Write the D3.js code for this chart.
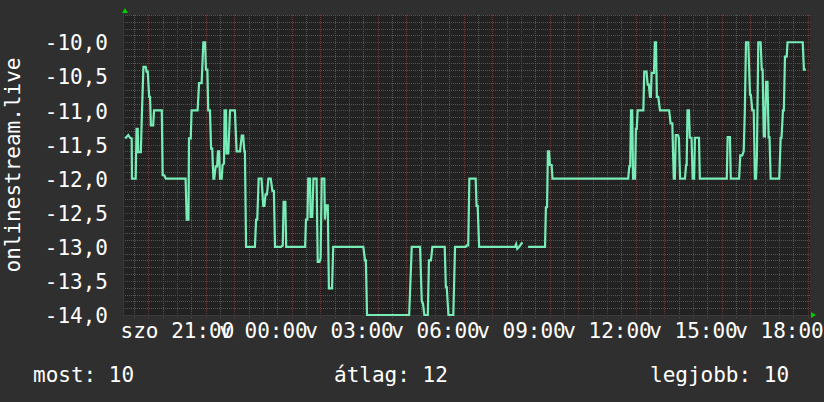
<!DOCTYPE html>
<html>
<head>
<meta charset="utf-8">
<script src="https://cdn.jsdelivr.net/npm/d3@7"></script>
<style>
  html, body { margin: 0; padding: 0; background: #2f2f2f; }
  svg { display: block; font-family: "DejaVu Sans Mono", monospace; }
</style>
</head>
<body>
<svg id="chart" width="824" height="402"></svg>
<script>
'use strict';

// hours counted from saturday 00:00, values of the measured series (null = gap)
var seriesHours = [
  19.19, 19.30, 19.36, 19.42, 19.43, 19.56, 19.59, 19.63, 19.65, 19.74, 19.78, 19.83, 19.91, 19.94, 19.98,
  20.03, 20.06, 20.09, 20.17, 20.20, 20.47, 20.50, 20.56, 20.61, 21.30, 21.34, 21.40, 21.42, 21.48, 21.51,
  21.72, 21.77, 21.86, 21.92, 21.98, 22.01, 22.06, 22.09, 22.15, 22.19, 22.23, 22.27, 22.30, 22.35, 22.40,
  22.43, 22.47, 22.50, 22.56, 22.59, 22.64, 22.66, 22.71, 22.73, 22.79, 22.85, 23.02, 23.08, 23.20, 23.26,
  23.31, 23.35, 23.37, 23.41, 23.72, 23.76, 23.80, 23.85, 23.95, 24.01, 24.05, 24.09, 24.14, 24.19, 24.27,
  24.33, 24.38, 24.42, 24.63, 24.69, 24.72, 24.78, 24.81,
  25.47, 25.50, 25.55, 25.58, 25.64, 25.66, 25.72, 25.76, 25.87, 25.91, 25.97, 26.01, 26.05, 26.14, 26.16,
  26.20, 26.26, 26.30, 26.41, 26.45, 27.50, 27.56, 27.59, 27.63, 29.10, 29.19, 29.48, 29.54, 29.58, 29.63,
  29.75, 29.79, 29.86, 29.91, 30.34, 30.38, 30.41, 30.47, 30.64, 30.70,
  31.07, 31.11, 31.16, 31.20, 31.42, 31.45, 31.49, 31.54, 32.79, 32.83, 32.87, 32.94, 33.02, 33.06, 33.15,
  33.25, 33.84, 33.87, 33.91, 33.94, 33.98, 34.01, 34.07, 34.10, 36.74, 36.78, 36.81, 36.84, 36.88, 36.91,
  36.98, 37.01, 37.04, 37.07, 37.27, 37.30, 37.38, 37.42, 37.46, 37.50, 37.53, 37.56, 37.64, 37.67, 37.71,
  37.74, 37.79, 37.85, 38.17, 38.22, 38.28, 38.33, 38.37, 38.40, 38.47, 38.51, 38.55, 38.72, 38.76, 38.78,
  38.81, 38.86, 38.89, 38.95, 38.99, 39.04, 39.07, 39.21, 39.24, 40.18, 40.21, 40.29, 40.32, 40.61, 40.65,
  40.72, 40.77, 40.81, 40.85, 40.93, 40.99, 41.02, 41.07, 41.12, 41.16, 41.20, 41.23, 41.28, 41.36, 41.40,
  41.43, 41.47, 41.51, 41.55, 41.60, 41.64, 41.67, 41.71, 42.01, 42.06, 42.09, 42.14, 42.17, 42.21, 42.27,
  42.30, 42.83, 42.87, 42.94
];
var seriesValues = [
  -11.41, -11.36, -11.40, -11.41, -12.0, -12.0, -11.27, -11.27, -11.61, -11.61, -11.0, -10.36, -10.36, -10.43, -10.43,
  -10.8, -10.8, -11.22, -11.22, -11.0, -11.0, -11.95, -11.95, -12.0, -12.0, -12.6, -12.6, -11.41, -11.41, -11.0,
  -11.0, -10.6, -10.6, -10.0, -10.0, -10.4, -10.4, -11.0, -11.0, -11.56, -11.56, -12.0, -12.0, -11.82, -11.82,
  -11.6, -11.6, -12.0, -12.0, -11.8, -11.78, -11.0, -11.0, -11.63, -11.63, -11.0, -11.0, -11.6, -11.6, -11.37,
  -11.37, -11.6, -11.6, -13.0, -13.0, -12.6, -12.6, -12.0, -12.0, -12.4, -12.4, -12.23, -12.23, -12.0, -12.0,
  -12.18, -12.18, -13.0, -13.0, -12.98, -12.34, -12.34, -13.0,
  -13.0, -12.6, -12.6, -12.0, -12.0, -12.56, -12.56, -12.0, -12.0, -13.22, -13.22, -13.17, -12.0, -12.0, -12.6,
  -12.39, -12.39, -13.61, -13.61, -13.0, -13.0, -13.2, -13.2, -14.0, -14.0, -13.0, -13.0, -13.8, -13.83, -14.0,
  -14.0, -13.2, -13.2, -13.0, -13.0, -13.59, -13.59, -14.0, -14.0, -13.0,
  -13.0, -12.98, -12.98, -12.0, -12.0, -12.4, -12.4, -13.0, -13.0, -12.96, -13.03, -13.0, -12.95, -12.94, null,
  -13.0, -13.0, -12.42, -12.42, -11.6, -11.6, -11.8, -11.8, -12.0, -12.0, -11.82, -11.82, -11.0, -11.0, -12.0,
  -12.0, -11.27, -11.27, -11.0, -11.0, -10.43, -10.43, -10.62, -10.62, -10.8, -10.8, -10.45, -10.45, -10.0, -10.0,
  -10.8, -10.8, -11.0, -11.0, -11.19, -11.19, -12.0, -12.0, -11.36, -11.36, -11.4, -12.0, -12.0, -11.8, -11.8,
  -11.0, -11.0, -11.4, -11.4, -12.0, -12.0, -11.4, -11.4, -12.0, -12.0, -11.39, -11.39, -12.0, -12.0, -11.66,
  -11.66, -11.6, -11.0, -10.0, -10.0, -10.77, -10.77, -11.0, -11.0, -12.0, -12.0, -11.67, -10.0, -10.0, -10.4,
  -10.4, -11.38, -11.38, -10.58, -10.58, -11.39, -11.39, -12.0, -12.0, -11.4, -11.4, -11.0, -11.0, -10.21, -10.21,
  -10.0, -10.0, -10.4, -10.4
];

var xTickHours = [21, 24, 27, 30, 33, 36, 39, 42];
var xTickLabels = ["szo 21:00", "v 00:00", "v 03:00", "v 06:00", "v 09:00", "v 12:00", "v 15:00", "v 18:00"];
var yTickValues = [-14, -13.5, -13, -12.5, -12, -11.5, -11, -10.5, -10];
var yTitle = "onlinestream.live";
var legendItems = ["most: 10", "átlag: 12", "legjobb: 10"];

var base = new Date(2024, 2, 2, 0, 0).getTime(); // a saturday
function hourToDate(h) { return new Date(base + h * 3600e3); }

var svg = d3.select("#chart");
var pLeft = 123, pRight = 810, pTop = 15, pBottom = 315;
var fontSize = 21;

var x = d3.scaleTime()
   .domain([hourToDate(19.117), hourToDate(43.083)])
   .range([pLeft, pRight]);
var y = d3.scaleLinear()
   .domain([-14, -9.6])
   .range([pBottom, pTop]);

var huLocale = d3.formatLocale({decimal: ",", thousands: " ", grouping: [3], currency: ["", " Ft"], minus: "-"});
var fmt = huLocale.format(".1f");

// canvas
svg.append("rect")
   .attr("x", pLeft).attr("y", pTop)
   .attr("width", pRight - pLeft).attr("height", pBottom - pTop)
   .attr("fill", "#222222");

var grid = svg.append("g");

// minor grid
var minorY = d3.range(-14, -9.59, 0.1).filter(function(v) { return Math.abs(v * 2 - Math.round(v * 2)) > 0.01; });
grid.selectAll("line.my").data(minorY).enter().append("line")
   .attr("x1", pLeft).attr("x2", pRight)
   .attr("y1", function(d) { return Math.round(y(d)) + 0.5; })
   .attr("y2", function(d) { return Math.round(y(d)) + 0.5; })
   .attr("stroke", "#555555").attr("stroke-dasharray", "1,1");

var halfHours = x.ticks(d3.timeMinute.every(30)).filter(function(d) { return d.getMinutes() === 30; });
var hours = x.ticks(d3.timeHour.every(1));
grid.selectAll("line.mx").data(halfHours).enter().append("line")
   .attr("x1", function(d) { return Math.round(x(d)) + 0.5; })
   .attr("x2", function(d) { return Math.round(x(d)) + 0.5; })
   .attr("y1", pTop).attr("y2", pBottom + 3)
   .attr("stroke", "#555555").attr("stroke-dasharray", "1,1");

// major grid
grid.selectAll("line.My").data(yTickValues).enter().append("line")
   .attr("x1", pLeft).attr("x2", pRight)
   .attr("y1", function(d) { return Math.round(y(d)) + 0.5; })
   .attr("y2", function(d) { return Math.round(y(d)) + 0.5; })
   .attr("stroke", "#743636").attr("stroke-dasharray", "1,1");
grid.selectAll("line.Mx").data(hours).enter().append("line")
   .attr("x1", function(d) { return Math.round(x(d)) + 0.5; })
   .attr("x2", function(d) { return Math.round(x(d)) + 0.5; })
   .attr("y1", pTop).attr("y2", pBottom + 3)
   .attr("stroke", "#743636").attr("stroke-dasharray", "1,1");

// axis lines
svg.append("line").attr("x1", pLeft + 0.5).attr("x2", pLeft + 0.5).attr("y1", pTop - 3).attr("y2", pBottom)
   .attr("stroke", "#3a3a3a");
svg.append("line").attr("x1", pLeft).attr("x2", pRight + 3).attr("y1", pBottom + 0.5).attr("y2", pBottom + 0.5)
   .attr("stroke", "#3a3a3a");

// arrows
svg.append("path").attr("d", "M122,13L125,8L128,13Z").attr("fill", "#00cc00");
svg.append("path").attr("d", "M811,312L816,315L811,318Z").attr("fill", "#00cc00");

// data line
var pts = seriesHours.map(function(h, i) { return {t: hourToDate(h), v: seriesValues[i]}; });
var line = d3.line()
   .defined(function(d) { return d.v !== null; })
   .x(function(d) { return x(d.t); })
   .y(function(d) { return y(d.v); });
svg.append("path")
   .datum(pts)
   .attr("d", line)
   .attr("fill", "none")
   .attr("stroke", "#78ecb6")
   .attr("stroke-width", 2.2)
   .attr("stroke-linejoin", "miter");

// y axis labels
var yAxis = d3.axisLeft(y).tickValues(yTickValues).tickSize(0).tickPadding(15).tickFormat(fmt);
var gy = svg.append("g").attr("transform", "translate(" + pLeft + ",0)").call(yAxis);
gy.select(".domain").remove();
gy.selectAll("text").attr("fill", "#ffffff").attr("font-size", fontSize)
   .attr("font-family", "DejaVu Sans Mono").attr("dy", "0.36em");

// x axis labels
var xAxis = d3.axisBottom(x)
   .tickValues(xTickHours.map(hourToDate))
   .tickSize(0).tickPadding(8)
   .tickFormat(function(d, i) { return xTickLabels[i]; });
var gx = svg.append("g").attr("transform", "translate(0," + pBottom + ")").call(xAxis);
gx.select(".domain").remove();
gx.selectAll("text").attr("fill", "#ffffff").attr("font-size", fontSize)
   .attr("font-family", "DejaVu Sans Mono").attr("dy", "0.71em");

// y title
svg.append("text")
   .attr("transform", "translate(20,165) rotate(-90)")
   .attr("text-anchor", "middle")
   .attr("fill", "#ffffff").attr("font-size", fontSize)
   .text(yTitle);

// legend
var legendX = [33, 334, 650];
svg.selectAll("text.legend").data(legendItems).enter().append("text")
   .attr("class", "legend")
   .attr("x", function(d, i) { return legendX[i]; })
   .attr("y", 382)
   .attr("fill", "#ffffff").attr("font-size", fontSize)
   .text(function(d) { return d; });
</script>
</body>
</html>
